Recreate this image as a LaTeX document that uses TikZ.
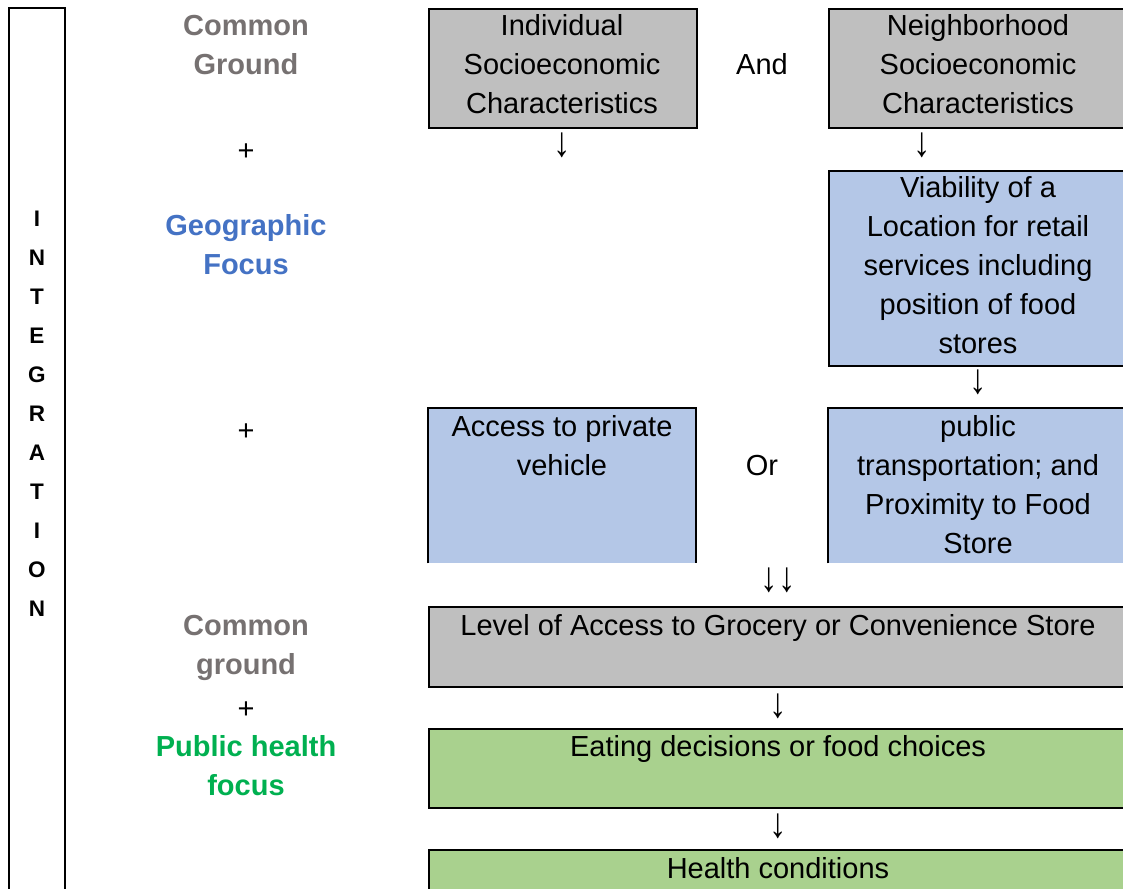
\documentclass[tikz,border=0pt]{standalone}
\usepackage{fontspec}
\usepackage{graphicx}
\setmainfont{Liberation Sans}
\definecolor{boxgray}{HTML}{BFBFBF}
\definecolor{boxblue}{HTML}{B4C7E7}
\definecolor{boxgreen}{HTML}{A9D18E}
\definecolor{lblgray}{HTML}{767171}
\definecolor{lblblue}{HTML}{4472C4}
\definecolor{lblgreen}{HTML}{00B050}
\newcommand{\mylines}[2]{\parbox[t]{#1}{\centering #2}}
\newcommand{\myarrow}[1]{\scalebox{1.2}[1.45]{#1}}
\begin{document}
\begin{tikzpicture}[x=1pt,y=-1pt,
  box/.style={anchor=north west, inner sep=0, line width=2pt, draw=black},
  openbox/.style={anchor=north west, inner sep=0},
  edge/.style={line width=2pt},
  txt/.style={anchor=base, inner sep=0, font=\fontsize{29}{39}\selectfont},
  lbl/.style={anchor=base, inner sep=0, font=\fontsize{29}{39}\selectfont\bfseries},
  arr/.style={anchor=center, inner sep=0, font=\fontsize{29}{39}\selectfont},
]
\clip (0,0) rectangle (1123,888);
% integration column
\node[openbox, minimum width=56pt, minimum height=900pt] (intbox) at (9,8) {};
\draw[edge] (intbox.south west) -- (intbox.north west) -- (intbox.north east) -- (intbox.south east);
\node[anchor=base, inner sep=0, font=\fontsize{22.5}{39}\selectfont\bfseries] (intt) at (37,226)
  {\mylines{40pt}{I\\N\\T\\E\\G\\R\\A\\T\\I\\O\\N}};
% left labels
\node[lbl, text=lblgray] (cg1) at (246,36) {\mylines{200pt}{Common\\Ground}};
\node[txt] (plus1) at (246,160) {+};
\node[lbl, text=lblblue] (geo) at (246,235) {\mylines{200pt}{Geographic\\Focus}};
\node[txt] (plus2) at (246,440) {+};
\node[lbl, text=lblgray] (cg2) at (246,635) {\mylines{200pt}{Common\\ground}};
\node[txt] (plus3) at (246,718) {+};
\node[lbl, text=lblgreen] (phf) at (246,756) {\mylines{220pt}{Public health\\focus}};
% boxes
\node[box, fill=boxgray, minimum width=268pt, minimum height=119pt] (ind) at (428,8) {};
\node[txt] (indt) at (562,36) {\mylines{268pt}{Individual\\Socioeconomic\\Characteristics}};
\node[txt] (and) at (762,75) {And};
\node[box, fill=boxgray, minimum width=300pt, minimum height=119pt] (nbh) at (828,8) {};
\node[txt] (nbht) at (978,36) {\mylines{300pt}{Neighborhood\\Socioeconomic\\Characteristics}};
\node[arr] (a1) at (562,145) {\myarrow{↓}};
\node[arr] (a2) at (922,145) {\myarrow{↓}};
\node[box, fill=boxblue, minimum width=300pt, minimum height=195pt] (viab) at (828,170) {};
\node[txt] (viabt) at (978,197) {\mylines{300pt}{Viability of a\\Location for retail\\services including\\position of food\\stores}};
\node[arr] (a3) at (978,382) {\myarrow{↓}};
\node[openbox, fill=boxblue, minimum width=268pt, minimum height=155pt] (acc) at (428,408) {};
\draw[edge] (acc.south west) -- (acc.north west) -- (acc.north east) -- (acc.south east);
\node[txt] (acct) at (562,436) {\mylines{268pt}{Access to private\\vehicle}};
\node[txt] (or) at (762,475) {Or};
\node[openbox, fill=boxblue, minimum width=300pt, minimum height=155pt] (pub) at (828,408) {};
\draw[edge] (pub.south west) -- (pub.north west) -- (pub.north east) -- (pub.south east);
\node[txt] (pubt) at (978,436) {\mylines{300pt}{public\\transportation; and\\Proximity to Food\\Store}};
\node[arr] (a4) at (778,580) {\myarrow{↓↓}};
\node[box, fill=boxgray, minimum width=700pt, minimum height=80pt] (lvl) at (428,606) {};
\node[txt] (lvlt) at (778,635) {Level of Access to Grocery or Convenience Store};
\node[arr] (a5) at (778,706) {\myarrow{↓}};
\node[box, fill=boxgreen, minimum width=700pt, minimum height=79pt] (eat) at (428,728) {};
\node[txt] (eatt) at (778,756) {Eating decisions or food choices};
\node[arr] (a6) at (778,826) {\myarrow{↓}};
\node[box, fill=boxgreen, minimum width=700pt, minimum height=60pt] (hlth) at (428,849) {};
\node[txt] (hltht) at (778,878) {Health conditions};
\end{tikzpicture}
\end{document}
